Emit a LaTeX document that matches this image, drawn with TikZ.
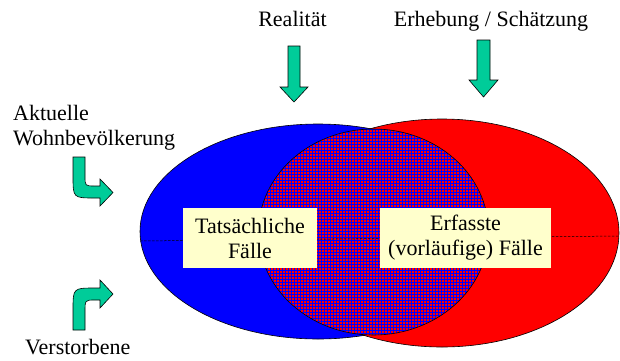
\documentclass[tikz,border=0pt]{standalone}
\usepackage{fontspec}
\setmainfont{Liberation Serif}
\usetikzlibrary{patterns.meta}

\definecolor{pfeilgruen}{HTML}{00CC99}
\definecolor{kastengelb}{HTML}{FFFFCC}

\tikzdeclarepattern{
  name=feingitter,
  type=uncolored,
  bottom left={(-.1pt,-.1pt)},
  top right={(3.1pt,3.1pt)},
  tile size={(3pt,3pt)},
  code={
    \draw[line width=0.3pt] (0pt,0pt) -- (3pt,0pt) (0pt,0pt) -- (0pt,3pt);
  }
}

\tikzset{
  etikett/.style={inner sep=0pt, font=\rmfamily\fontsize{22}{25}\selectfont},
  kasten/.style={etikett, fill=kastengelb, align=center, minimum height=60pt},
  pfeil/.style={fill=pfeilgruen, draw=black, line width=0.6pt, line join=miter}
}

\begin{document}
\begin{tikzpicture}[x=1pt,y=-1pt]
    \useasboundingbox (0,0) rectangle (620,360);

    % Mengen
    \draw[fill=blue, line width=0.6pt] (318,231.5) ellipse [x radius=178pt, y radius=107.5pt];
    \draw[fill=red, line width=0.6pt] (442,233) ellipse [x radius=177pt, y radius=114pt];
    \fill[red] (373.5,232) ellipse [x radius=115pt, y radius=103pt];
    \fill[pattern=feingitter, pattern color=blue] (373.5,232) ellipse [x radius=115pt, y radius=103pt];
    \draw[line width=0.6pt] (373.5,232) ellipse [x radius=115pt, y radius=103pt];

    % Achse
    \coordinate (links) at (140,241);
    \coordinate (rechts) at (619,236);
    \draw[dash pattern=on 2.5pt off 1.5pt, line width=0.5pt] (links) -- (rechts);

    % Kaesten
    \node[kasten, minimum width=134pt] (tatsaechlich) at (250,238) {Tatsächliche\\Fälle};
    \node[kasten, minimum width=171pt] (erfasst) at (465.5,238) {Erfasste\\(vorläufige) Fälle};

    % Pfeile oben
    \draw[pfeil] (288,46) -- (300,46) -- (300,87) -- (308,87) -- (294,102)
        -- (280,87) -- (288,87) -- cycle;
    \draw[pfeil] (477,40) -- (490,40) -- (490,80) -- (498,80) -- (483.5,97)
        -- (469,80) -- (477,80) -- cycle;

    % Pfeile links
    \draw[pfeil] (73,157) -- (85,157) -- (85,176) .. controls (85,186) .. (95,186)
        -- (100,186) -- (100,179) -- (113,192.5) -- (100,206) -- (100,198)
        -- (95,198) .. controls (73,198) .. (73,176) -- cycle;
    \draw[pfeil] (73,330) -- (85,330) -- (85,312) .. controls (85,300) .. (95,300)
        -- (100,300) -- (100,308) -- (113,294) -- (100,280) -- (100,288)
        -- (95,288) .. controls (73,288) .. (73,310) -- cycle;

    % Beschriftungen
    \node[etikett, anchor=base] (realitaet) at (292.5,26) {Realität};
    \node[etikett, anchor=base] (erhebung) at (491,26) {Erhebung / Schätzung};
    \node[etikett, anchor=north west, align=left] (wohnbev) at (13,105) {Aktuelle\\Wohnbevölkerung};
    \node[etikett, anchor=base west] (verstorben) at (25,354) {Verstorbene};
\end{tikzpicture}
\end{document}
